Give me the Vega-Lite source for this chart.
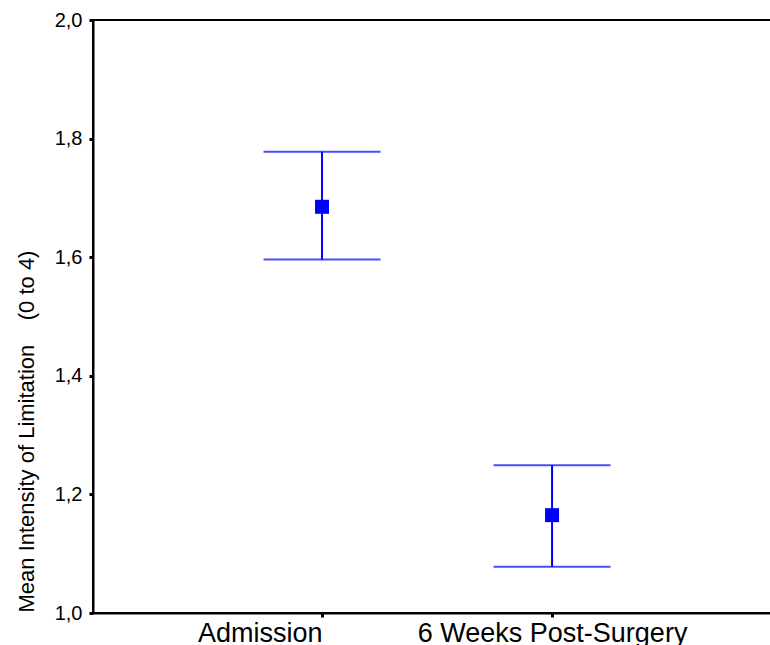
{
  "$schema": "https://vega.github.io/schema/vega-lite/v6.json",
  "autosize": {"type": "none"},
  "padding": {"left": 93, "top": 20, "right": 0, "bottom": 32},
  "width": 680,
  "height": 593,
  "background": "white",
  "config": {
    "view": {"stroke": "black", "strokeWidth": 2},
    "font": "Liberation Sans",
    "axis": {
      "grid": false,
      "domainColor": "black",
      "domainWidth": 2,
      "tickColor": "black",
      "tickWidth": 3,
      "tickSize": 4,
      "labelColor": "black",
      "titleColor": "black",
      "labelFont": "Liberation Sans",
      "titleFont": "Liberation Sans",
      "titleFontWeight": "normal",
      "labelLimit": 0
    }
  },
  "data": {
    "values": [
      {"time": "Admission", "mean": 1.685, "lo": 1.596, "hi": 1.778},
      {"time": "6 Weeks Post-Surgery", "mean": 1.165, "lo": 1.078, "hi": 1.249}
    ]
  },
  "layer": [
    {
      "mark": {"type": "rule", "color": "#0000FF", "strokeWidth": 2},
      "encoding": {
        "x": {
          "field": "time",
          "type": "nominal",
          "sort": null,
          "scale": {"type": "point", "padding": 0.978, "align": 0.509},
          "axis": {
            "title": null,
            "labelAngle": 0,
            "labelFontSize": 27,
            "labelPadding": 3,
            "labelBaseline": "top",
            "labelLimit": 0,
            "labelOverlap": false,
            "labelDx": 31,
            "labelAlign": {
              "condition": {"test": "datum.value === 'Admission'", "value": "right"},
              "value": "center"
            }
          }
        },
        "y": {
          "field": "lo",
          "type": "quantitative",
          "scale": {"domain": [1, 2], "nice": false, "zero": false},
          "axis": {
            "values": [1, 1.2, 1.4, 1.6, 1.8, 2],
            "labelExpr": "replace(format(datum.value, '.1f'), '.', ',')",
            "labelFontSize": 20,
            "labelPadding": 7,
            "title": "Mean Intensity of Limitation\u00a0\u00a0\u00a0\u00a0(0 to 4)",
            "titleFontSize": 22,
            "titleAngle": -90,
            "titleAlign": "left",
            "titleBaseline": "alphabetic",
            "titleX": -60,
            "titleY": 592
          }
        },
        "y2": {"field": "hi"}
      }
    },
    {
      "mark": {"type": "tick", "orient": "horizontal", "color": "#0000FF", "size": 117, "thickness": 2},
      "encoding": {
        "x": {"field": "time", "type": "nominal", "sort": null},
        "y": {"field": "lo", "type": "quantitative"}
      }
    },
    {
      "mark": {"type": "tick", "orient": "horizontal", "color": "#0000FF", "size": 117, "thickness": 2},
      "encoding": {
        "x": {"field": "time", "type": "nominal", "sort": null},
        "y": {"field": "hi", "type": "quantitative"}
      }
    },
    {
      "mark": {"type": "point", "shape": "square", "filled": true, "color": "#0000FF", "opacity": 1, "size": 196},
      "encoding": {
        "x": {"field": "time", "type": "nominal", "sort": null},
        "y": {"field": "mean", "type": "quantitative"}
      }
    }
  ]
}
